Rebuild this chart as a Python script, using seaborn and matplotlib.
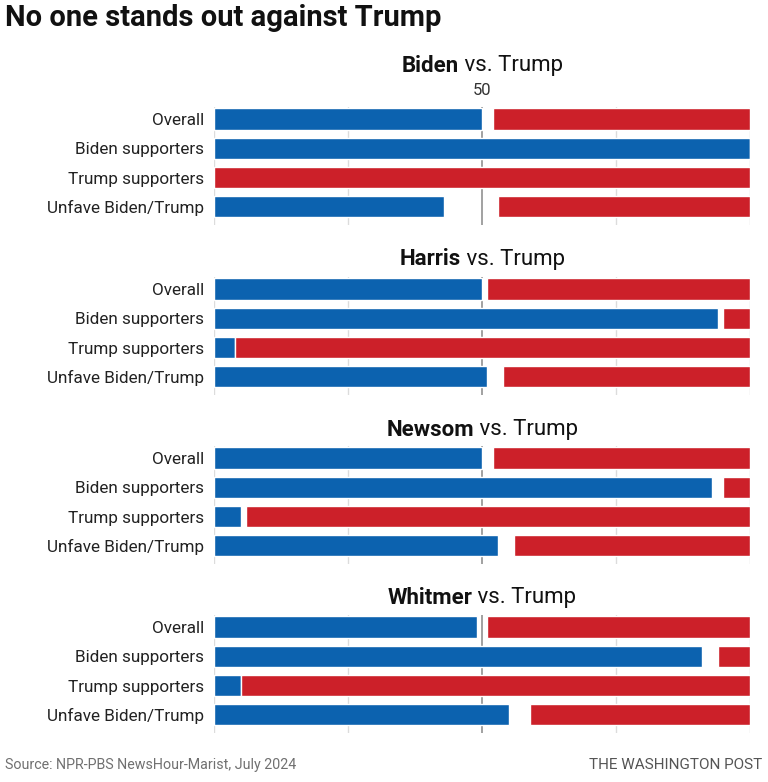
import matplotlib
matplotlib.use("Agg")
import matplotlib.pyplot as plt
import pandas as pd
import seaborn as sns

# data (percent)
groups = ["Overall", "Biden supporters", "Trump supporters", "Unfave Biden/Trump"]
candidates = ["Biden", "Harris", "Newsom", "Whitmer"]
biden_dem = [50, 100, 0, 43]
biden_trump = [48, 0, 100, 47]
harris_dem = [50, 94, 4, 51]
harris_trump = [49, 5, 96, 46]
newsom_dem = [50, 93, 5, 53]
newsom_trump = [48, 5, 94, 44]
whitmer_dem = [49, 91, 5, 55]
whitmer_trump = [49, 6, 95, 41]
grid_ticks = [0, 25, 50, 75, 100]

BLUE = "#0c62af"
RED = "#cc2029"

sns.set_theme(style="white")
plt.rcParams["font.family"] = ["Roboto", "DejaVu Sans"]

W, H = 768, 782
fig = plt.figure(figsize=(W / 100, H / 100), dpi=100)

panels = [
    (candidates[0], biden_dem, biden_trump),
    (candidates[1], harris_dem, harris_trump),
    (candidates[2], newsom_dem, newsom_trump),
    (candidates[3], whitmer_dem, whitmer_trump),
]
first_row_px = [119, 289, 458, 627]
title_px = [66, 259, 430, 598]
row_step = 29.3
ax_left, ax_right = 214, 750
renderer = fig.canvas.get_renderer()

for i, (name, dem, trump) in enumerate(panels):
    top_px = first_row_px[i] - 0.4 * row_step
    bot_px = first_row_px[i] + 3.62 * row_step
    ax = fig.add_axes([ax_left / W, 1 - bot_px / H, (ax_right - ax_left) / W,
                       (bot_px - top_px) / H])
    df = pd.DataFrame({"group": groups, "dem": dem, "trump": trump})
    sns.barplot(data=df, x="dem", y="group", color=BLUE, saturation=1,
                width=0.72, errorbar=None, ax=ax, zorder=2)
    sns.barplot(data=df, x="trump", y="group", color=RED, saturation=1,
                width=0.72, errorbar=None, ax=ax, zorder=2,
                left=(100 - df["trump"]).to_numpy())
    for t in grid_ticks:
        if t == 50:
            ax.axvline(t, color="#9a9a9a", lw=1.3, zorder=1)
        else:
            ax.axvline(t, color="#dcdcdc", lw=1, zorder=1)
    ax.set_xlim(0, 100)
    ax.set_ylim(3.62, -0.4)
    ax.set_xlabel("")
    ax.set_ylabel("")
    ax.set_xticks([])
    ax.tick_params(axis="y", length=0, pad=7, labelsize=12.3, labelcolor="#222222")
    for s in ax.spines.values():
        s.set_visible(False)
    if i == 0:
        ax.text(50, -0.98, "50", ha="center", va="center", fontsize=12,
                color="#333333", clip_on=False)

    # panel title: bold candidate name + regular " vs. Trump", centred on 50
    y = 1 - title_px[i] / H
    t1 = fig.text(0, y, name, fontsize=16, weight="bold", color="#111111",
                  ha="left", va="center")
    t2 = fig.text(0, y, " vs. Trump", fontsize=16, color="#111111",
                  ha="left", va="center")
    w1 = t1.get_window_extent(renderer).width
    w2 = t2.get_window_extent(renderer).width
    cx = (ax_left + ax_right) / 2
    x0 = cx - (w1 + w2) / 2
    t1.set_x(x0 / W)
    t2.set_x((x0 + w1) / W)

fig.text(5 / W, 1 - 18 / H, "No one stands out against Trump", fontsize=21,
         weight="bold", color="#111111", ha="left", va="center")
fig.text(5 / W, 1 - 765 / H, "Source: NPR-PBS NewsHour-Marist, July 2024",
         fontsize=10.3, color="#707070", ha="left", va="center")
fig.text(762 / W, 1 - 765 / H, "THE WASHINGTON POST", fontsize=11,
         color="#555555", ha="right", va="center")

fig.savefig("out.png", dpi=100, facecolor="white")
